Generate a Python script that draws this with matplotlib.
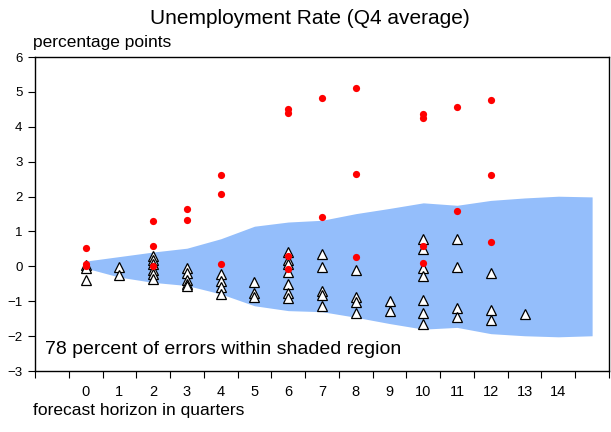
import numpy as np
import matplotlib
matplotlib.use("Agg")
import matplotlib.pyplot as plt

plt.rcParams["font.family"] = ["Liberation Sans", "DejaVu Sans"]

# shaded band (upper / lower error bounds)
band_x = [0, 1, 2, 3, 4, 5, 6, 7, 8, 9, 10, 11, 12, 13, 14, 15]
band_hi = [0.15, 0.28, 0.41, 0.52, 0.79, 1.15, 1.27, 1.32, 1.51, 1.66, 1.82, 1.75, 1.89, 1.96, 2.01, 1.99]
band_lo = [-0.05, -0.31, -0.46, -0.55, -0.79, -1.13, -1.27, -1.30, -1.46, -1.64, -1.80, -1.75, -1.93, -1.99, -2.02, -1.99]

# errors outside the shaded region (red dots)
red_x = [0, 0, 0, 2, 2, 2, 3, 3, 4, 4, 4, 6, 6, 6, 6, 7, 7, 8, 8, 8,
         10, 10, 10, 10, 11, 11, 12, 12, 12]
red_y = [0.52, 0.08, 0.0, 1.31, 0.57, 0.02, 1.65, 1.32, 2.61, 2.07, 0.07,
         4.50, 4.39, 0.31, -0.07, 4.82, 1.41, 5.11, 2.66, 0.28,
         4.36, 4.26, 0.58, 0.09, 4.56, 1.59, 4.76, 2.63, 0.69]

# errors inside the shaded region (white triangles)
tri_x = [0, 0, 0, 1, 1, 2, 2, 2, 2, 2, 2, 3, 3, 3, 3, 3, 4, 4, 4, 4,
         5, 5, 5, 6, 6, 6, 6, 6, 6, 6, 7, 7, 7, 7, 7, 8, 8, 8, 8, 9, 9,
         10, 10, 10, 10, 10, 10, 10, 11, 11, 11, 11, 12, 12, 12, 13]
tri_y = [0.05, -0.06, -0.38, -0.03, -0.24,
         0.31, 0.19, 0.07, -0.10, -0.22, -0.36,
         -0.05, -0.2, -0.38, -0.50, -0.55,
         -0.22, -0.41, -0.60, -0.79,
         -0.46, -0.75, -0.88,
         0.42, 0.19, 0.07, -0.17, -0.50, -0.75, -0.92,
         0.34, -0.02, -0.72, -0.81, -1.13,
         -0.10, -0.89, -1.03, -1.34,
         -1.00, -1.29,
         0.79, 0.50, -0.04, -0.29, -0.96, -1.34, -1.64,
         0.79, -0.03, -1.19, -1.45,
         -0.19, -1.25, -1.54,
         -1.37]

x_labels = [str(i) for i in range(15)]

fig = plt.figure(figsize=(6.11, 4.32), dpi=100)
ax = fig.add_axes([35 / 611, 1 - 371 / 432, 574 / 611, 314 / 432])

ax.fill_between(band_x, band_lo, band_hi, color="#94BEFB", linewidth=0, zorder=1)
ax.plot(tri_x, tri_y, linestyle="none", marker="^", ms=6.5, mfc="white",
        mec="black", mew=0.9, zorder=2)
ax.plot(red_x, red_y, linestyle="none", marker="o", ms=5.2, mfc="#FF0000",
        mec="#FF0000", mew=0, zorder=3)

ax.set_xlim(-1.5, 15.5)
ax.set_ylim(-3, 6)
ax.set_yticks(range(-3, 7))
ax.set_xticks(np.arange(-1.5, 16, 1.0))
ax.set_xticklabels([])
ax.set_xticks(range(15), minor=True)
ax.set_xticklabels(x_labels, minor=True)
ax.tick_params(axis="x", which="major", direction="out", length=5, width=0.8)
ax.tick_params(axis="x", which="minor", length=0, pad=10, labelsize=10.5)
ax.tick_params(axis="y", direction="out", length=5, width=0.8, labelsize=9.5, pad=4)
for s in ax.spines.values():
    s.set_linewidth(1.0)

ax.text(0.017, 0.04, "78 percent of errors within shaded region", transform=ax.transAxes,
        fontsize=14, ha="left", va="bottom")

fig.text(310 / 611, 1 - 19 / 432, "Unemployment Rate (Q4 average)", fontsize=15,
         ha="center", va="center")
fig.text(33 / 611, 1 - 42 / 432, "percentage points", fontsize=12.5, ha="left", va="center")
fig.text(33 / 611, 1 - 411 / 432, "forecast horizon in quarters", fontsize=12.5,
         ha="left", va="center")

fig.savefig("out.png", dpi=100)
